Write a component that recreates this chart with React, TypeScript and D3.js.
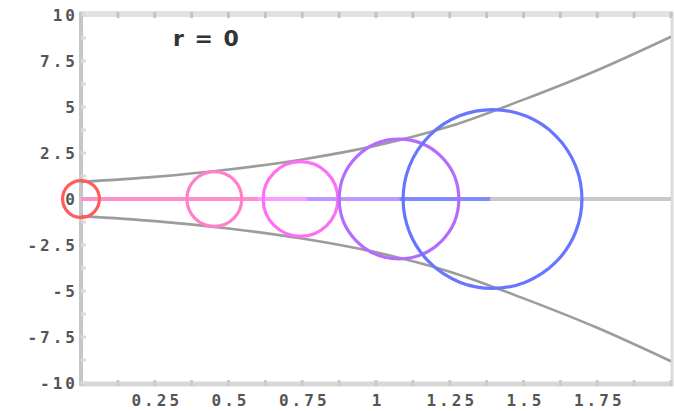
import React from "react";
import * as d3 from "d3";

// Envelope (upper boundary); the lower one mirrors it
const envelopeX = [0, 0.25, 0.5, 0.75, 1.0, 1.25, 1.5, 1.75, 2.0];
const envelopeY = [0.93, 1.2, 1.6, 2.15, 2.9, 3.95, 5.4, 7.0, 8.82];

// Circles: centre on x axis, radius in y units, segment end on y = 0
const circleNames = ["red", "pink", "magenta", "purple", "blue"];
const circleCx = [0.0, 0.452, 0.744, 1.078, 1.395];
const circleR = [1.0, 1.49, 2.03, 3.25, 4.86];
const segmentEnd = [0.0, 0.6, 0.766, 1.08, 1.387];
const circleColors = ["#ff5c5c", "#ff7fc8", "#ff6ff4", "#b46cff", "#6676ff"];
const segmentColors = ["#ff8080", "#ff90d0", "#ff9cff", "#bf98ff", "#7f8cff"];

const xTicks = [0.25, 0.5, 0.75, 1, 1.25, 1.5, 1.75];
const xTickLabels = ["0.25", "0.5", "0.75", "1", "1.25", "1.5", "1.75"];
const yTicks = [10, 7.5, 5, 2.5, 0, -2.5, -5, -7.5, -10];
const yTickLabels = ["10", "7.5", "5", "2.5", "0", "-2.5", "-5", "-7.5", "-10"];
const titleText = "r = 0";

export default function App() {
  const W = 674, H = 411;
  const left = 81, right = 671, top = 15, bottom = 383;
  const x = d3.scaleLinear().domain([0, 2]).range([left, right]);
  const y = d3.scaleLinear().domain([-10, 10]).range([bottom, top]);
  const unit = y(0) - y(1);

  const pts = envelopeX.map((v, i) => [v, envelopeY[i]] as [number, number]);
  const line = d3.line<[number, number]>().x(d => x(d[0])).y(d => y(d[1])).curve(d3.curveMonotoneX);
  const upper = line(pts) || "";
  const lower = line(pts.map(p => [p[0], -p[1]] as [number, number])) || "";

  const labelFont = "'DejaVu Sans Mono', monospace";
  const minorX = d3.range(0, 2.0001, 0.125);
  const minorY = d3.range(-10, 10.0001, 1.25);

  return (
    <svg width={W} height={H} style={{ position: "fixed", left: 0, top: 0, display: "block", background: "#fff" }}>
      <defs>
        <clipPath id="plot">
          <rect x={left} y={top} width={right - left} height={bottom - top} />
        </clipPath>
      </defs>
      {/* frame */}
      <line x1={left - 2} x2={right + 2} y1={top - 1} y2={top - 1} stroke="#e2e2e2" strokeWidth={6} />
      <line x1={left - 2} x2={right + 2} y1={bottom + 1} y2={bottom + 1} stroke="#d8d8d8" strokeWidth={5} />
      <line x1={left} x2={left} y1={top - 3} y2={bottom + 3} stroke="#c6c6c6" strokeWidth={4} />
      <line x1={right + 1} x2={right + 1} y1={top - 3} y2={bottom + 3} stroke="#dcdcdc" strokeWidth={3} />
      {minorX.map((t, i) => (
        <g key={"mx" + i}>
          <line x1={x(t)} x2={x(t)} y1={top - 3} y2={top + 3} stroke="#c4c4c4" strokeWidth={3} />
          <line x1={x(t)} x2={x(t)} y1={bottom - 3} y2={bottom + 3} stroke="#cccccc" strokeWidth={3} />
        </g>
      ))}
      {minorY.map((t, i) => (
        <line key={"my" + i} x1={left} x2={left + 5} y1={y(t)} y2={y(t)} stroke="#dadada" strokeWidth={3} />
      ))}

      <g clipPath="url(#plot)">
        {/* x axis line */}
        <line x1={left} x2={right} y1={y(0)} y2={y(0)} stroke="#c8c8c8" strokeWidth={4} />
        {/* segments, biggest first */}
        {circleNames.map((_, j) => {
          const i = circleNames.length - 1 - j;
          if (segmentEnd[i] <= 0) return null;
          return (
            <line key={"s" + i} x1={x(0)} x2={x(segmentEnd[i])} y1={y(0)} y2={y(0)}
              stroke={segmentColors[i]} strokeWidth={4} />
          );
        })}
        {/* envelope */}
        <path d={upper} fill="none" stroke="#9c9c9c" strokeWidth={2.6} />
        <path d={lower} fill="none" stroke="#9c9c9c" strokeWidth={2.6} />
      </g>
      {/* circles */}
      {circleNames.map((n, i) => (
        <circle key={n} cx={x(circleCx[i])} cy={y(0)} r={circleR[i] * unit}
          fill="none" stroke={circleColors[i]} strokeWidth={3.2} />
      ))}

      {/* title */}
      <text x={173} y={46} fontFamily="'DejaVu Sans', sans-serif" fontWeight="bold" fontSize={22}
        letterSpacing={1.5} fill="#333">{titleText}</text>

      {/* y tick labels */}
      {yTicks.map((t, i) => (
        <text key={"yl" + i} x={75 + 3} y={y(t) + 6} textAnchor="end" fontFamily={labelFont}
          fontWeight="bold" fontSize={16} letterSpacing={3} fill="#555">{yTickLabels[i]}</text>
      ))}
      {/* x tick labels */}
      {xTicks.map((t, i) => (
        <text key={"xl" + i} x={x(t) + 2} y={406} textAnchor="middle" fontFamily={labelFont}
          fontWeight="bold" fontSize={16} letterSpacing={3} fill="#555">{xTickLabels[i]}</text>
      ))}
    </svg>
  );
}
